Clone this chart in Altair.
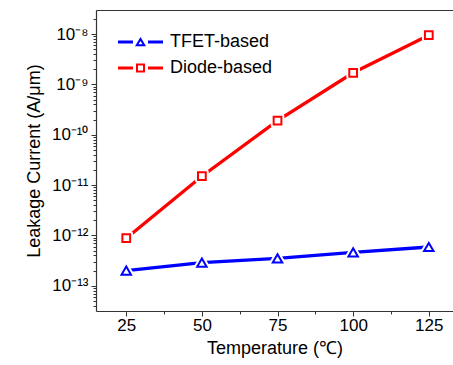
import altair as alt
import pandas as pd

# Leakage current versus temperature for two designs
temperatures = [25, 50, 75, 100, 125]
tfet_current = [2.0e-13, 2.9e-13, 3.5e-13, 4.6e-13, 5.9e-13]
diode_current = [8.8e-13, 1.5e-11, 1.9e-10, 1.7e-9, 9.5e-9]

series_names = ["TFET-based", "Diode-based"]
series_colors = ["#0000ff", "#ff0000"]
series_shapes = ["triangle-up", "square"]
series_sizes = [90, 60]

x_ticks = [25, 50, 75, 100, 125]
x_minor_ticks = [37.5, 62.5, 87.5, 112.5]
y_exponents = [-13, -12, -11, -10, -9, -8]
y_tick_labels = ["10⁻¹³", "10⁻¹²", "10⁻¹¹", "10⁻¹⁰", "10⁻⁹", "10⁻⁸"]

rows = []
for t, v in zip(temperatures, tfet_current):
    rows.append({"T": t, "I": v, "series": series_names[0]})
for t, v in zip(temperatures, diode_current):
    rows.append({"T": t, "I": v, "series": series_names[1]})
df = pd.DataFrame(rows)

y_major = [10.0 ** e for e in y_exponents]
y_minor = [k * 10.0 ** e for e in range(-14, -7) for k in range(2, 10)
           if 3.16e-14 <= k * 10.0 ** e <= 3.0e-8]

label_array = "[" + ",".join("'" + s + "'" for s in y_tick_labels) + "]"
y_label_expr = f"{label_array}[round(log(datum.value)/LN10) + {-y_exponents[0]}]"

FONT = "Liberation Sans"
AXIS_COLOR = "#333333"

x_scale = alt.Scale(domain=[15, 133], nice=False, zero=False)
y_scale = alt.Scale(type="log", domain=[3.16e-14, 3.0e-8], nice=False)
color_scale = alt.Scale(domain=series_names, range=series_colors)

# legend glyphs: line segments with a hollow marker in the middle
tri_path = ("M-2.25,-0.16H-0.75V0.16H-2.25Z M0.75,-0.16H2.25V0.16H0.75Z "
            "M0,-0.5L0.55,0.42L-0.55,0.42Z M0,-0.11L-0.197,0.22L0.197,0.22Z")
sq_path = ("M-2.25,-0.16H-0.75V0.16H-2.25Z M0.75,-0.16H2.25V0.16H0.75Z "
           "M-0.45,-0.45H0.45V0.45H-0.45Z M-0.25,-0.25V0.25H0.25V-0.25Z")
legend_shape_scale = alt.Scale(domain=series_names, range=[tri_path, sq_path])

legend = alt.Legend(
    title=None,
    orient="none",
    legendX=34.5,
    legendY=22,
    padding=0,
    symbolSize=400,
    labelOffset=19.5,
    rowPadding=7,
    labelFont=FONT,
    labelFontSize=18,
    labelColor="black",
    symbolStrokeWidth=0,
    symbolOpacity=1,
)

x_axis_main = alt.Axis(
    values=x_ticks, title="Temperature (℃)", orient="bottom", grid=False,
    tickSize=5, tickColor=AXIS_COLOR, domainColor=AXIS_COLOR, domainWidth=1.2,
    labelFont=FONT, labelFontSize=17, labelColor="black", labelPadding=1,
    titleFont=FONT, titleFontSize=18, titleFontWeight="normal", titleColor="black",
    titlePadding=6,
)
y_axis_main = alt.Axis(
    values=y_major, labelExpr=y_label_expr, title="Leakage Current (A/μm)", orient="left",
    grid=False, tickSize=5, tickColor=AXIS_COLOR, domainColor=AXIS_COLOR, domainWidth=1.2,
    labelFont=FONT, labelFontSize=17, labelColor="black", labelPadding=3,
    titleFont=FONT, titleFontSize=18, titleFontWeight="normal", titleColor="black",
    titlePadding=8,
)
x_axis_minor = alt.Axis(values=x_minor_ticks, orient="bottom", labels=False, domain=False,
                        grid=False, tickSize=3, tickColor=AXIS_COLOR, title=None)
y_axis_minor = alt.Axis(values=y_minor, orient="left", labels=False, domain=False,
                        grid=False, tickSize=3, tickColor=AXIS_COLOR, title=None)
x_axis_top = alt.Axis(orient="top", labels=False, ticks=False, grid=False,
                      domainColor=AXIS_COLOR, domainWidth=1.2, title=None)

base = alt.Chart(df)

# legend carrier: zero-sized points, only supplies the legend
layers = [
    base.mark_point(filled=True, size=0, strokeWidth=0).encode(
        x=alt.X("T:Q", scale=x_scale, axis=None),
        y=alt.Y("I:Q", scale=y_scale, axis=None),
        color=alt.Color("series:N", scale=color_scale, legend=legend),
        shape=alt.Shape("series:N", scale=legend_shape_scale, legend=legend),
    ),
    base.mark_line(strokeWidth=3.3).encode(
        x=alt.X("T:Q", scale=x_scale, axis=x_axis_main),
        y=alt.Y("I:Q", scale=y_scale, axis=y_axis_main),
        color=alt.Color("series:N", scale=color_scale, legend=None),
        detail="series:N",
    ),
]

extra_axes = [(x_axis_minor, y_axis_minor), (x_axis_top, None)]
for i, (name, col, shp, sz) in enumerate(zip(series_names, series_colors, series_shapes, series_sizes)):
    sub = base.transform_filter(alt.datum.series == name)
    xa, ya = extra_axes[i] if i < len(extra_axes) else (None, None)
    # white halo so the line stops short of each marker
    layers.append(
        sub.mark_point(shape=shp, size=sz, filled=True, color="white", stroke="white",
                       strokeWidth=6, strokeJoin="round", opacity=1).encode(
            x=alt.X("T:Q", scale=x_scale, axis=xa),
            y=alt.Y("I:Q", scale=y_scale, axis=ya),
        )
    )
    layers.append(
        sub.mark_point(shape=shp, size=sz, filled=False, fill="white", stroke=col,
                       strokeWidth=2, opacity=1).encode(
            x=alt.X("T:Q", scale=x_scale, axis=None),
            y=alt.Y("I:Q", scale=y_scale, axis=None),
        )
    )

chart = (
    alt.layer(*layers)
    .resolve_axis(x="independent", y="independent")
    .properties(
        width=357,
        height=301,
        padding={"left": 96, "top": 10, "right": 0, "bottom": 54},
        autosize="none",
        background="white",
    )
    .configure_view(stroke=None)
)

chart.save("out.html", embed_options={"renderer": "svg", "actions": False})
